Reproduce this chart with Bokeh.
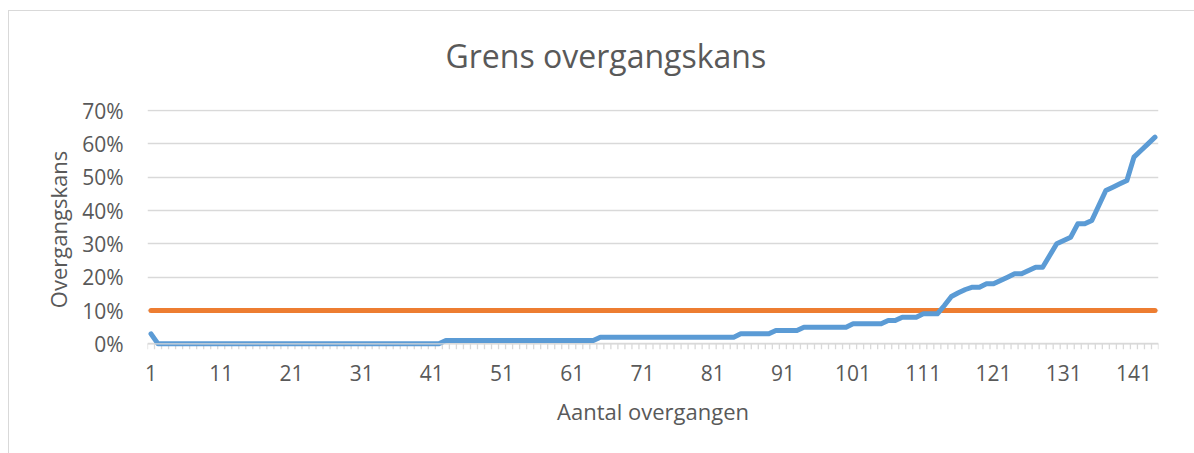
from bokeh.plotting import figure
from bokeh.models import Range1d, FixedTicker, PrintfTickFormatter, Span, ColumnDataSource
from bokeh.embed import file_html
from bokeh.resources import INLINE

# ---- data ----
categories = list(range(1, 145))
overgangskans = [
    3, 0, 0, 0, 0, 0, 0, 0, 0, 0, 0, 0, 0, 0, 0, 0, 0, 0, 0, 0,
    0, 0, 0, 0, 0, 0, 0, 0, 0, 0, 0, 0, 0, 0, 0, 0, 0, 0, 0, 0,
    0, 0, 1, 1, 1, 1, 1, 1, 1, 1, 1, 1, 1, 1, 1, 1, 1, 1, 1, 1,
    1, 1, 1, 1, 2, 2, 2, 2, 2, 2, 2, 2, 2, 2, 2, 2, 2, 2, 2, 2,
    2, 2, 2, 2, 3, 3, 3, 3, 3, 4, 4, 4, 4, 5, 5, 5, 5, 5, 5, 5,
    6, 6, 6, 6, 6, 7, 7, 8, 8, 8, 9, 9, 9, 11.5, 14.2, 15.3, 16.3, 17, 17, 18,
    18, 19, 20, 21, 21, 22, 23, 23, 26.5, 30, 31, 32, 36, 36, 37, 41.5, 46, 47, 48, 49,
    56, 58, 60, 62,
]
grens_waarde = 10
y_ticks = [0, 10, 20, 30, 40, 50, 60, 70]
x_label_cats = categories[::10]

title_text = "Grens overgangskans"
x_title = "Aantal overgangen"
y_title = "Overgangskans"

FONT = "Open Sans"
GREY_TXT = "#595959"
GREY_LN = "#d9d9d9"

n = len(categories)
src = ColumnDataSource(dict(x=categories, y=overgangskans, g=[grens_waarde] * n))

BL, BT, BR, BB = 147, 109, 36, 104
W, H = 1194, 453
p = figure(width=W, height=H, output_backend="svg", toolbar_location=None,
           x_range=Range1d(0.5, n + 0.5), y_range=Range1d(-1.7, 70.3),
           min_border_left=BL, min_border_right=BR, min_border_top=BT, min_border_bottom=BB,
           title=title_text)
p.outline_line_color = None
p.background_fill_color = None
p.border_fill_color = None
# chart-area border (left and top edges) drawn as the element's CSS background
p.styles = {
    "background": ("linear-gradient(#d9d9d9,#d9d9d9) 8px 10px / 1px 100% no-repeat, "
                   "linear-gradient(#d9d9d9,#d9d9d9) 8px 10px / 100% 1px no-repeat, white"),
}

# title
p.title.align = "left"
p.title.offset = 298
p.title.vertical_align = "middle"
p.title.standoff = 64
p.title.text_font = FONT
p.title.text_font_size = "32px"
p.title.text_font_style = "normal"
p.title.text_color = GREY_TXT

# grid
p.xgrid.visible = False
p.yaxis.ticker = FixedTicker(ticks=y_ticks)
p.ygrid.grid_line_color = GREY_LN
p.ygrid.grid_line_width = 1.3

# y axis
p.yaxis.formatter = PrintfTickFormatter(format="%d%%")
p.yaxis.axis_line_color = None
p.yaxis.major_tick_line_color = None
p.yaxis.minor_tick_line_color = None
p.yaxis.major_label_standoff = 18
p.yaxis.major_label_text_font = FONT
p.yaxis.major_label_text_font_size = "21px"
p.yaxis.major_label_text_color = GREY_TXT
p.yaxis.axis_label = y_title
p.yaxis.axis_label_text_font = FONT
p.yaxis.axis_label_text_font_size = "22px"
p.yaxis.axis_label_text_font_style = "normal"
p.yaxis.axis_label_text_color = GREY_TXT
p.yaxis.axis_label_standoff = 6

# x axis
p.xaxis.ticker = FixedTicker(ticks=x_label_cats)
p.xaxis.axis_line_color = None
p.xaxis.major_tick_line_color = None
p.xaxis.minor_tick_line_color = None
p.xaxis.major_label_standoff = 9
p.xaxis.major_label_text_font = FONT
p.xaxis.major_label_text_font_size = "21px"
p.xaxis.major_label_text_color = GREY_TXT
p.xaxis.axis_label = x_title
p.xaxis.axis_label_text_font = FONT
p.xaxis.axis_label_text_font_size = "22px"
p.xaxis.axis_label_text_font_style = "normal"
p.xaxis.axis_label_text_color = GREY_TXT
p.xaxis.axis_label_standoff = 12

# category axis line and tick marks
bounds = [c - 0.5 for c in categories] + [categories[-1] + 0.5]
p.segment(x0=bounds, y0=[0] * len(bounds), x1=bounds, y1=[-1.7] * len(bounds),
          line_color=GREY_LN, line_width=1.3)
p.add_layout(Span(location=0, dimension="width", line_color=GREY_LN, line_width=1.3))

# series
p.line("x", "g", source=src, line_color="#ED7D31", line_width=5,
       line_cap="round", line_join="round")
p.line("x", "y", source=src, line_color="#5B9BD5", line_width=5,
       line_cap="round", line_join="round")

open("out.html", "w").write(file_html(p, INLINE))
